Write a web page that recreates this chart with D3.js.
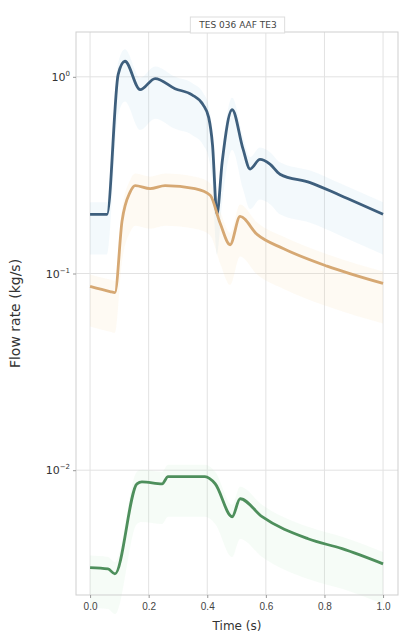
<!DOCTYPE html>
<html>
<head>
<meta charset="utf-8">
<script src="https://cdn.jsdelivr.net/npm/d3@7"></script>
<style>
  body { margin: 0; background: #fff; }
  svg { font-family: "DejaVu Sans", sans-serif; }
</style>
</head>
<body>
<svg id="chart" width="405" height="644"></svg>
<script>
// time points (s) and flow values per series
const blueT = [0.0, 0.058, 0.096, 0.119, 0.171, 0.222, 0.29, 0.348, 0.386, 0.405, 0.418, 0.433, 0.451, 0.485, 0.522, 0.546, 0.58, 0.614, 0.648, 0.751, 0.853, 1.0];
const blueV = [0.20, 0.20, 1.03, 1.20, 0.86, 0.98, 0.87, 0.81, 0.72, 0.62, 0.45, 0.20, 0.37, 0.68, 0.43, 0.34, 0.38, 0.36, 0.32, 0.29, 0.25, 0.20];

const orangeT = [0.0, 0.068, 0.085, 0.109, 0.137, 0.154, 0.205, 0.256, 0.358, 0.41, 0.444, 0.478, 0.512, 0.57, 0.659, 0.809, 1.0];
const orangeV = [0.086, 0.081, 0.080, 0.184, 0.26, 0.28, 0.27, 0.28, 0.27, 0.25, 0.18, 0.14, 0.195, 0.158, 0.134, 0.109, 0.089];

const greenT = [0.0, 0.061, 0.085, 0.16, 0.177, 0.246, 0.266, 0.392, 0.427, 0.485, 0.512, 0.587, 0.744, 0.86, 1.0];
const greenV = [0.0032, 0.00315, 0.00297, 0.00853, 0.00873, 0.00853, 0.00927, 0.00927, 0.00853, 0.0058, 0.00716, 0.0058, 0.00448, 0.00399, 0.00334];

const xTicks = [0, 0.2, 0.4, 0.6, 0.8, 1.0];
const yTicks = [1, 0.1, 0.01];
const yTickExp = ["0", "\u22121", "\u22122"];

const titleText = "TES 036 AAF TE3";
const xLabel = "Time (s)";
const yLabel = "Flow rate (kg/s)";

const svg = d3.select("#chart");
const margin = { left: 76, right: 7, top: 32, bottom: 49 };
const W = 405, H = 644;

const x = d3.scaleLinear().domain([-0.048, 1.051]).range([margin.left, W - margin.right]);
const y = d3.scaleLog().domain([0.00232, 1.69]).range([H - margin.bottom, margin.top]);

// grid
const grid = svg.append("g");
grid.selectAll(".vg").data(xTicks).enter().append("line")
  .attr("x1", d => x(d)).attr("x2", d => x(d))
  .attr("y1", margin.top).attr("y2", H - margin.bottom)
  .attr("stroke", "#e2e2e2").attr("stroke-width", 1);
grid.selectAll(".hg").data(yTicks).enter().append("line")
  .attr("x1", margin.left).attr("x2", W - margin.right)
  .attr("y1", d => y(d)).attr("y2", d => y(d))
  .attr("stroke", "#e2e2e2").attr("stroke-width", 1);

// series
const series = [
  { t: blueT, v: blueV, color: "#3e5f7d", band: "#9ccbe8" },
  { t: orangeT, v: orangeV, color: "#d6a873", band: "#f6d99a" },
  { t: greenT, v: greenV, color: "#4e8f5c", band: "#b5e3c0" }
];

series.forEach(s => {
  const pts = s.t.map((t, i) => [t, s.v[i]]);
  const area = d3.area()
    .curve(d3.curveMonotoneX)
    .x(d => x(d[0]))
    .y0(d => y(d[1] / 1.6))
    .y1(d => y(d[1] * 1.15));
  svg.append("path").datum(pts)
    .attr("d", area)
    .attr("fill", s.band).attr("opacity", 0.12);
});

series.forEach(s => {
  const pts = s.t.map((t, i) => [t, s.v[i]]);
  const line = d3.line().curve(d3.curveMonotoneX).x(d => x(d[0])).y(d => y(d[1]));
  svg.append("path").datum(pts)
    .attr("d", line)
    .attr("fill", "none")
    .attr("stroke", s.color)
    .attr("stroke-width", 2.8)
    .attr("stroke-linejoin", "round");
});

// frame
svg.append("rect")
  .attr("x", margin.left).attr("y", margin.top)
  .attr("width", W - margin.left - margin.right)
  .attr("height", H - margin.top - margin.bottom)
  .attr("fill", "none").attr("stroke", "#cfcfcf");

// x axis
const xAxis = svg.append("g")
  .attr("transform", `translate(0,${H - margin.bottom})`)
  .call(d3.axisBottom(x).tickValues(xTicks).tickFormat(d3.format(".1f")).tickSize(3));
xAxis.select(".domain").remove();
xAxis.selectAll("line").attr("stroke", "#999");
xAxis.selectAll("text").attr("font-size", 10).attr("fill", "#444").attr("dy", "0.9em");

// y axis
const yAxis = svg.append("g")
  .attr("transform", `translate(${margin.left},0)`)
  .call(d3.axisLeft(y).tickValues(yTicks).tickFormat("").tickSize(3));
yAxis.select(".domain").remove();
yAxis.selectAll("line").attr("stroke", "#999");
const ylab = svg.append("g").selectAll("text").data(yTicks).enter().append("text")
  .attr("x", margin.left - 6).attr("y", d => y(d) + 4)
  .attr("text-anchor", "end").attr("font-size", 11).attr("fill", "#333");
ylab.append("tspan").text("10");
ylab.append("tspan").attr("dy", -5).attr("font-size", 7).text((d, i) => yTickExp[i]);

// labels
svg.append("text")
  .attr("x", (margin.left + W - margin.right) / 2).attr("y", 630)
  .attr("text-anchor", "middle").attr("font-size", 12).attr("fill", "#333")
  .text(xLabel);
svg.append("text")
  .attr("transform", `translate(20,${(margin.top + H - margin.bottom) / 2}) rotate(-90)`)
  .attr("text-anchor", "middle").attr("font-size", 14).attr("fill", "#333")
  .text(yLabel);

// title box
const tb = svg.append("g").attr("transform", "translate(238,24)");
const tt = tb.append("text").attr("text-anchor", "middle").attr("y", 4)
  .attr("font-size", 9).attr("fill", "#444").text(titleText);
const bb = tt.node().getBBox();
tb.insert("rect", "text")
  .attr("x", bb.x - 8).attr("y", bb.y - 3)
  .attr("width", bb.width + 16).attr("height", bb.height + 6)
  .attr("fill", "#fff").attr("stroke", "#ddd");
</script>
</body>
</html>
